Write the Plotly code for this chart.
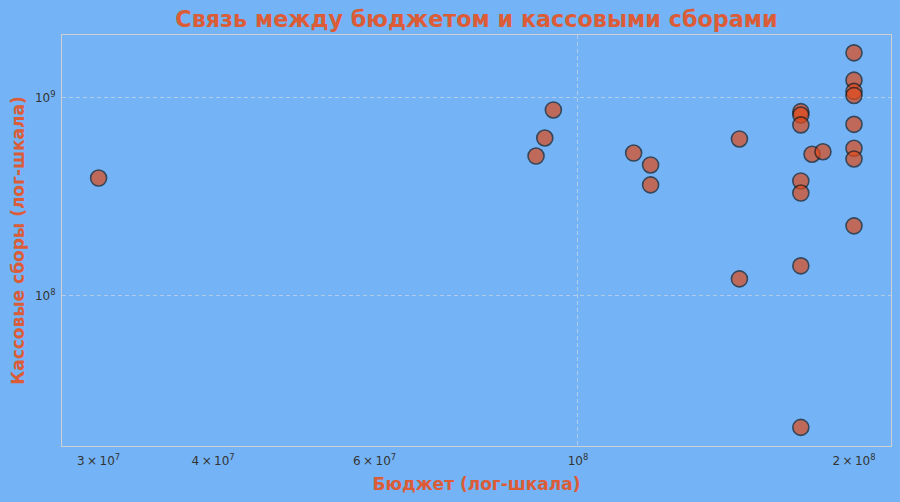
import plotly.graph_objects as go

# Budget (USD) and box office (USD)
budget = [
    3.0e7,
    9.0e7, 9.2e7, 9.4e7,
    1.15e8, 1.2e8, 1.2e8,
    1.5e8, 1.5e8,
    1.75e8, 1.75e8, 1.75e8, 1.75e8, 1.75e8, 1.75e8, 1.75e8,
    1.8e8, 1.85e8,
    2.0e8, 2.0e8, 2.0e8, 2.0e8, 2.0e8, 2.0e8, 2.0e8, 2.0e8,
]
box_office = [
    3.94e8,
    5.09e8, 6.28e8, 8.70e8,
    5.27e8, 4.59e8, 3.64e8,
    6.21e8, 1.22e8,
    8.53e8, 8.20e8, 7.31e8, 3.81e8, 3.31e8, 1.42e8, 2.17e7,
    5.20e8, 5.35e8,
    1.69e9, 1.23e9, 1.08e9, 1.03e9, 7.36e8, 5.57e8, 4.92e8, 2.26e8,
]

x_tickvals = [3e7, 4e7, 6e7, 1e8, 2e8]
x_ticktext = ["3\u2009×\u200910<sup>7</sup>", "4\u2009×\u200910<sup>7</sup>", "6\u2009×\u200910<sup>7</sup>",
              "10<sup>8</sup>", "2\u2009×\u200910<sup>8</sup>"]
y_tickvals = [1e8, 1e9]
y_ticktext = ["10<sup>8</sup>", "10<sup>9</sup>"]

bg = "#74b3f5"
accent = "#dc5c38"
grid = "rgba(220,220,220,0.6)"

fig = go.Figure()
fig.add_trace(go.Scatter(
    x=budget, y=box_office, mode="markers",
    marker=dict(size=16, color="#e04a1a", opacity=0.7,
                line=dict(color="#1a1a1a", width=1.6)),
    showlegend=False,
))
# invisible copy bound to the overlay axis that carries the major x gridline
fig.add_trace(go.Scatter(
    x=budget, y=box_office, mode="markers", xaxis="x2",
    marker=dict(size=1, opacity=0), hoverinfo="skip", showlegend=False,
))

fig.update_layout(
    width=900, height=502,
    paper_bgcolor=bg, plot_bgcolor=bg,
    margin=dict(l=62, r=9, t=35, b=56),
    font=dict(family="DejaVu Sans", color="#333333"),
    title=dict(text="<b>Связь между бюджетом и кассовыми сборами</b>",
               font=dict(size=22.3, color=accent, family="DejaVu Sans"),
               x=0.5, xref="paper", xanchor="center",
               y=1 - 19 / 502, yref="container", yanchor="middle"),
    xaxis=dict(type="log", range=[7.4372, 8.3414],
               tickvals=x_tickvals, ticktext=x_ticktext, ticks="",
               ticklabelstandoff=4,
               showgrid=False, zeroline=False,
               showline=True, mirror=True, linecolor="#d0d0d0", linewidth=1,
               tickfont=dict(size=12, color="#333333"),
               title=dict(text="<b>Бюджет (лог-шкала)</b>",
                          font=dict(size=17, color=accent), standoff=10)),
    xaxis2=dict(type="log", overlaying="x", matches="x", side="bottom",
                tickvals=[1e8], showticklabels=False, ticks="",
                showgrid=True, gridcolor=grid, griddash="4px,3px", gridwidth=0.8,
                zeroline=False, showline=False),
    yaxis=dict(type="log", range=[7.2424, 9.318],
               tickvals=y_tickvals, ticktext=y_ticktext, ticks="",
               ticklabelstandoff=3,
               showgrid=True, gridcolor=grid, griddash="4px,3px", gridwidth=0.8,
               zeroline=False,
               showline=True, mirror=True, linecolor="#d0d0d0", linewidth=1,
               tickfont=dict(size=12, color="#333333"),
               title=dict(text="<b>Кассовые сборы (лог-шкала)</b>",
                          font=dict(size=17, color=accent), standoff=6)),
)

fig.write_html("out.html", config={"displayModeBar": False},
               post_script="document.body.style.margin='0';document.body.style.padding='0';"
                           "document.body.style.background='" + bg + "';")
